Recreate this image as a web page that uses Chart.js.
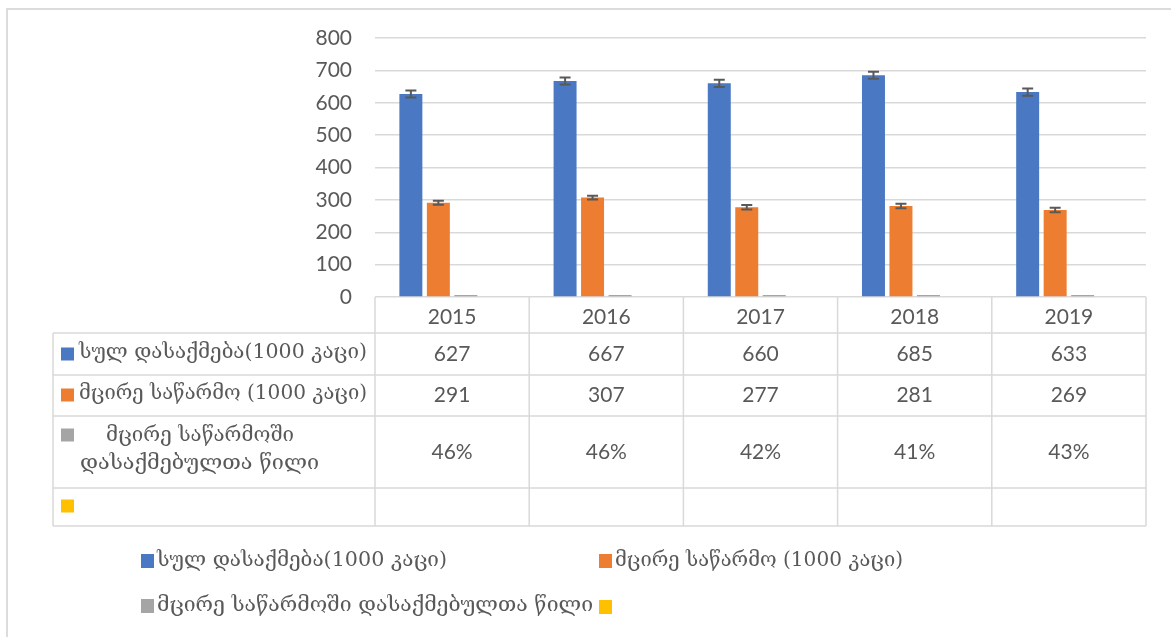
<!DOCTYPE html>
<html>
<head>
<meta charset="utf-8">
<script src="https://cdn.jsdelivr.net/npm/chart.js@4.4.1/dist/chart.umd.min.js"></script>
<style>
html,body{margin:0;padding:0;background:#fff;}
#c{display:block;}
</style>
</head>
<body>
<canvas id="c" width="1171" height="637"></canvas>
<script>
// ---- data ----
const years = ['2015', '2016', '2017', '2018', '2019'];
const seriesNames = ['სულ დასაქმება(1000 კაცი)', 'მცირე საწარმო (1000 კაცი)', 'მცირე საწარმოში დასაქმებულთა წილი', ''];
const totalEmployment = [627, 667, 660, 685, 633];
const smallBusiness = [291, 307, 277, 281, 269];
const smallShare = [0.46, 0.46, 0.42, 0.41, 0.43];
const emptySeries = [null, null, null, null, null];
const totalErr = [11, 11, 11, 11, 11];
const smallErr = [6, 6, 7, 7, 7];
const yTicks = [0, 100, 200, 300, 400, 500, 600, 700, 800];

const colors = ['#4A78C2', '#ED7D31', '#A5A5A5', '#FFC000'];
const textColor = '#595959';
const lineColor = '#d9d9d9';
const numFont = '21px Lato, "DejaVu Sans"';
const geoFont = '20px "DejaVu Serif", "DejaVu Sans"';

function fitText(ctx, t, x, y, w) {
  const m = ctx.measureText(t).width;
  ctx.save();
  ctx.translate(x, y);
  ctx.scale(w / m, 1);
  ctx.fillText(t, 0, 0);
  ctx.restore();
}

const errorBars = {
  id: 'errorBars',
  afterDatasetsDraw(chart) {
    const ctx = chart.ctx, y = chart.scales.y;
    const sets = [[0, totalEmployment, totalErr], [1, smallBusiness, smallErr]];
    ctx.save();
    ctx.strokeStyle = '#595959';
    ctx.lineWidth = 2;
    sets.forEach(([di, vals, errs]) => {
      const meta = chart.getDatasetMeta(di);
      meta.data.forEach((bar, i) => {
        const x = bar.x;
        const yTop = y.getPixelForValue(vals[i] + errs[i]);
        const yBot = y.getPixelForValue(vals[i] - errs[i]);
        ctx.beginPath();
        ctx.moveTo(x, yTop); ctx.lineTo(x, yBot);
        ctx.moveTo(x - 5.5, yTop); ctx.lineTo(x + 5.5, yTop);
        ctx.moveTo(x - 5.5, yBot); ctx.lineTo(x + 5.5, yBot);
        ctx.stroke();
      });
    });
    ctx.restore();
  }
};

const tableAndLegend = {
  id: 'tableAndLegend',
  beforeDraw(chart) {
    const ctx = chart.ctx;
    ctx.save();
    ctx.fillStyle = '#fff';
    ctx.fillRect(0, 0, chart.width, chart.height);
    ctx.strokeStyle = '#dcdcdc';
    ctx.lineWidth = 2;
    ctx.beginPath();
    ctx.moveTo(7, 700); ctx.lineTo(7, 9); ctx.lineTo(1200, 9);
    ctx.stroke();
    ctx.restore();
  },
  afterDraw(chart) {
    const ctx = chart.ctx, ca = chart.chartArea, xs = chart.scales.x;
    const n = years.length;
    const cw = (ca.right - ca.left) / n;
    const tableLeft = 53;
    const rowLines = [333, 375, 416, 488, 526];
    ctx.save();
    ctx.strokeStyle = lineColor;
    ctx.lineWidth = 1.5;
    ctx.beginPath();
    rowLines.forEach(yy => { ctx.moveTo(tableLeft, yy); ctx.lineTo(ca.right, yy); });
    for (let i = 0; i <= n; i++) {
      const xx = ca.left + i * cw;
      ctx.moveTo(xx, ca.bottom); ctx.lineTo(xx, rowLines[rowLines.length - 1]);
    }
    ctx.moveTo(tableLeft, rowLines[0]); ctx.lineTo(tableLeft, rowLines[rowLines.length - 1]);
    ctx.stroke();

    // values
    ctx.fillStyle = textColor;
    ctx.font = numFont;
    ctx.textAlign = 'center';
    ctx.textBaseline = 'middle';
    const rowsY = [354, 395, 452];
    years.forEach((_, i) => {
      const cx = xs.getPixelForValue(i);
      ctx.fillText(String(totalEmployment[i]), cx, rowsY[0]);
      ctx.fillText(String(smallBusiness[i]), cx, rowsY[1]);
      ctx.fillText(Math.round(smallShare[i] * 100) + '%', cx, rowsY[2]);
    });

    // row headers
    ctx.textAlign = 'left';
    ctx.font = geoFont;
    const keyX = 61, key = 13;
    const keysY = [354, 395, 435, 506];
    keysY.forEach((ky, i) => {
      ctx.fillStyle = colors[i];
      ctx.fillRect(keyX, ky - 6.5, key, key);
    });
    ctx.fillStyle = textColor;
    fitText(ctx, seriesNames[0], 79, 353, 288);
    fitText(ctx, seriesNames[1], 79, 394, 288);
    const parts = seriesNames[2].split(' ');
    fitText(ctx, parts.slice(0, 2).join(' '), 106, 436, 188);
    fitText(ctx, parts.slice(2).join(' '), 80, 464, 239);

    // legend
    const leg = [
      [141, 561, 290],
      [599, 561, 288],
      [141, 606, 436],
      [599, 607, 0]
    ];
    leg.forEach(([lx, ly, w], i) => {
      ctx.fillStyle = colors[i];
      ctx.fillRect(lx, ly - 7, 13, 14);
      if (seriesNames[i]) {
        ctx.fillStyle = textColor;
        fitText(ctx, seriesNames[i], lx + 16, ly, w);
      }
    });
    ctx.restore();
  }
};

new Chart(document.getElementById('c'), {
  type: 'bar',
  data: {
    labels: years,
    datasets: [
      { label: seriesNames[0], data: totalEmployment, backgroundColor: colors[0] },
      { label: seriesNames[1], data: smallBusiness, backgroundColor: colors[1] },
      { label: seriesNames[2], data: smallShare, backgroundColor: colors[2], minBarLength: 2 },
      { label: seriesNames[3], data: emptySeries, backgroundColor: colors[3] }
    ]
  },
  options: {
    responsive: false,
    animation: false,
    devicePixelRatio: 1,
    layout: { padding: { top: 38, right: 25, left: 0, bottom: 0 } },
    datasets: { bar: { categoryPercentage: 0.713, barPercentage: 0.836 } },
    plugins: { legend: { display: false }, tooltip: { enabled: false } },
    scales: {
      x: {
        offset: true,
        grid: { display: false },
        border: { display: false },
        ticks: { color: textColor, font: { family: 'Lato', size: 21 }, padding: 0 },
        afterFit(s) { s.height = 340; }
      },
      y: {
        min: 0, max: 800,
        afterBuildTicks(s) { s.ticks = yTicks.map(v => ({ value: v })); },
        grid: { color: lineColor, lineWidth: 1.5, drawTicks: false },
        border: { display: false },
        ticks: { color: textColor, font: { family: 'Lato', size: 21 }, padding: 23 },
        afterFit(s) { s.width = 375; }
      }
    }
  },
  plugins: [errorBars, tableAndLegend]
});
</script>
</body>
</html>
